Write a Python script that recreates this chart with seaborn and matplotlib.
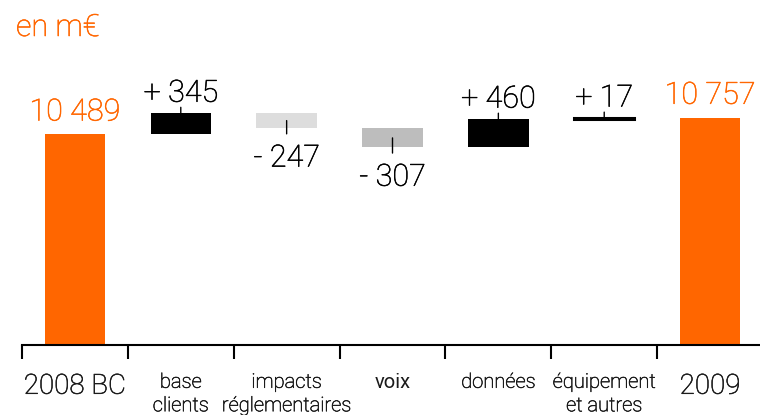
import matplotlib
matplotlib.use("Agg")
import matplotlib.pyplot as plt
import matplotlib.patheffects as pe
import seaborn as sns
import pandas as pd

# chart data
categories = ["2008 BC", "base\nclients", "impacts\nréglementaires", "voix",
              "données", "équipement\net autres", "2009"]
start_total = 10489
deltas = [345, -247, -307, 460, 17]
end_total = 10757
unit_label = "en m€"

ORANGE = "#FF6600"
bar_colors = [ORANGE, "#000000", "#DDDDDD", "#BDBDBD", "#000000", "#000000", ORANGE]


def fmt_total(v):
    return f"{v:,}".replace(",", " ")


def fmt_delta(v):
    return f"+ {v}" if v > 0 else f"- {-v}"


def thicken(color):
    # Roboto Light is a touch thinner than the original Helvetica Light
    return [pe.withStroke(linewidth=0.4, foreground=color)]


# waterfall extents
bottoms, tops = [0], [start_total]
running = start_total
for d in deltas:
    new = running + d
    bottoms.append(min(running, new))
    tops.append(max(running, new))
    running = new
bottoms.append(0)
tops.append(end_total)

df = pd.DataFrame({"category": categories, "bottom": bottoms, "top": tops})
value_labels = [fmt_total(start_total)] + [fmt_delta(d) for d in deltas] + [fmt_total(end_total)]

sns.set_theme(style="white")
plt.rcParams["font.family"] = ["Roboto", "DejaVu Sans"]

fig = plt.figure(figsize=(7.6, 4.15), dpi=100)
ax_pos = [22 / 760, 70 / 415, 741 / 760, 345 / 415]
ax = fig.add_axes(ax_pos)

sns.barplot(data=df, x="category", y="top", width=0.57, color=ORANGE, ax=ax)
y0, y1 = 7120, 12640
ax.set_ylim(y0, y1)
ax.set_xlim(-0.5, 6.5)
# points per data unit, to place connector ends in offset points
pt_per_unit = ax_pos[3] * fig.get_figheight() * 72 / (y1 - y0)

# turn the plain bars into floating waterfall steps
for patch, b, t, c in zip(ax.patches, df["bottom"], df["top"], bar_colors):
    if b > 0:
        patch.set_y(b)
        patch.set_height(t - b)
    patch.set_facecolor(c)
    patch.set_edgecolor(c)
    patch.set_linewidth(2.2 if t - b < 50 else 0)

line_kw = dict(arrowstyle="-", color="black", lw=1, shrinkA=0, shrinkB=0)
text_kw = dict(textcoords="offset points", ha="center", fontsize=22,
               fontweight="light")

n = len(categories)
for i in range(n):
    b, t = df["bottom"][i], df["top"][i]
    text = value_labels[i]
    if i in (0, n - 1):
        ax.annotate(text, (i, t), xytext=(0, 10), va="baseline", color=ORANGE,
                    path_effects=thicken(ORANGE), **text_kw)
    elif deltas[i - 1] > 0:
        ax.annotate("", xy=(i, t), xytext=(0, 4), textcoords="offset points",
                    arrowprops=line_kw)
        ax.annotate(text, (i, t), xytext=(0, 8), va="baseline", color="black",
                    path_effects=thicken("black"), **text_kw)
    else:
        mid = (b + t) / 2
        ax.annotate("", xy=(i, mid),
                    xytext=(0, -(mid - b) * pt_per_unit - 4),
                    textcoords="offset points", arrowprops=line_kw)
        ax.annotate(text, (i, b), xytext=(0, -11), va="top", color="black",
                    path_effects=thicken("black"), **text_kw)

# boundary ticks (major) and centred category labels (minor)
ax.set_xticks([i - 0.5 for i in range(n)])
ax.set_xticklabels([])
ax.set_xticks(range(n), labels=categories, minor=True)
ax.tick_params(axis="x", which="major", bottom=True, length=10, width=1.5,
               color="black", direction="out")
ax.tick_params(axis="x", which="minor", bottom=True, length=0, pad=20)
for i, lab in enumerate(ax.get_xticklabels(minor=True)):
    big = i in (0, n - 1)
    lab.set_fontsize(20 if big else 14.5)
    lab.set_linespacing(1.3)
    lab.set_color("#1a1a1a")
    if categories[i] == "voix":
        lab.set_fontweight("normal")
    else:
        lab.set_fontweight("light")
        lab.set_path_effects(thicken("#1a1a1a"))

ax.set_yticks([])
ax.set_xlabel("")
ax.set_ylabel("")
sns.despine(ax=ax, left=True)
ax.spines["bottom"].set_color("black")
ax.spines["bottom"].set_linewidth(1.5)

fig.text(16 / 760, 1 - 36 / 415, unit_label, color=ORANGE, fontsize=22,
         va="baseline", ha="left", fontweight="light",
         path_effects=thicken(ORANGE))

fig.savefig("out.png", dpi=100)
